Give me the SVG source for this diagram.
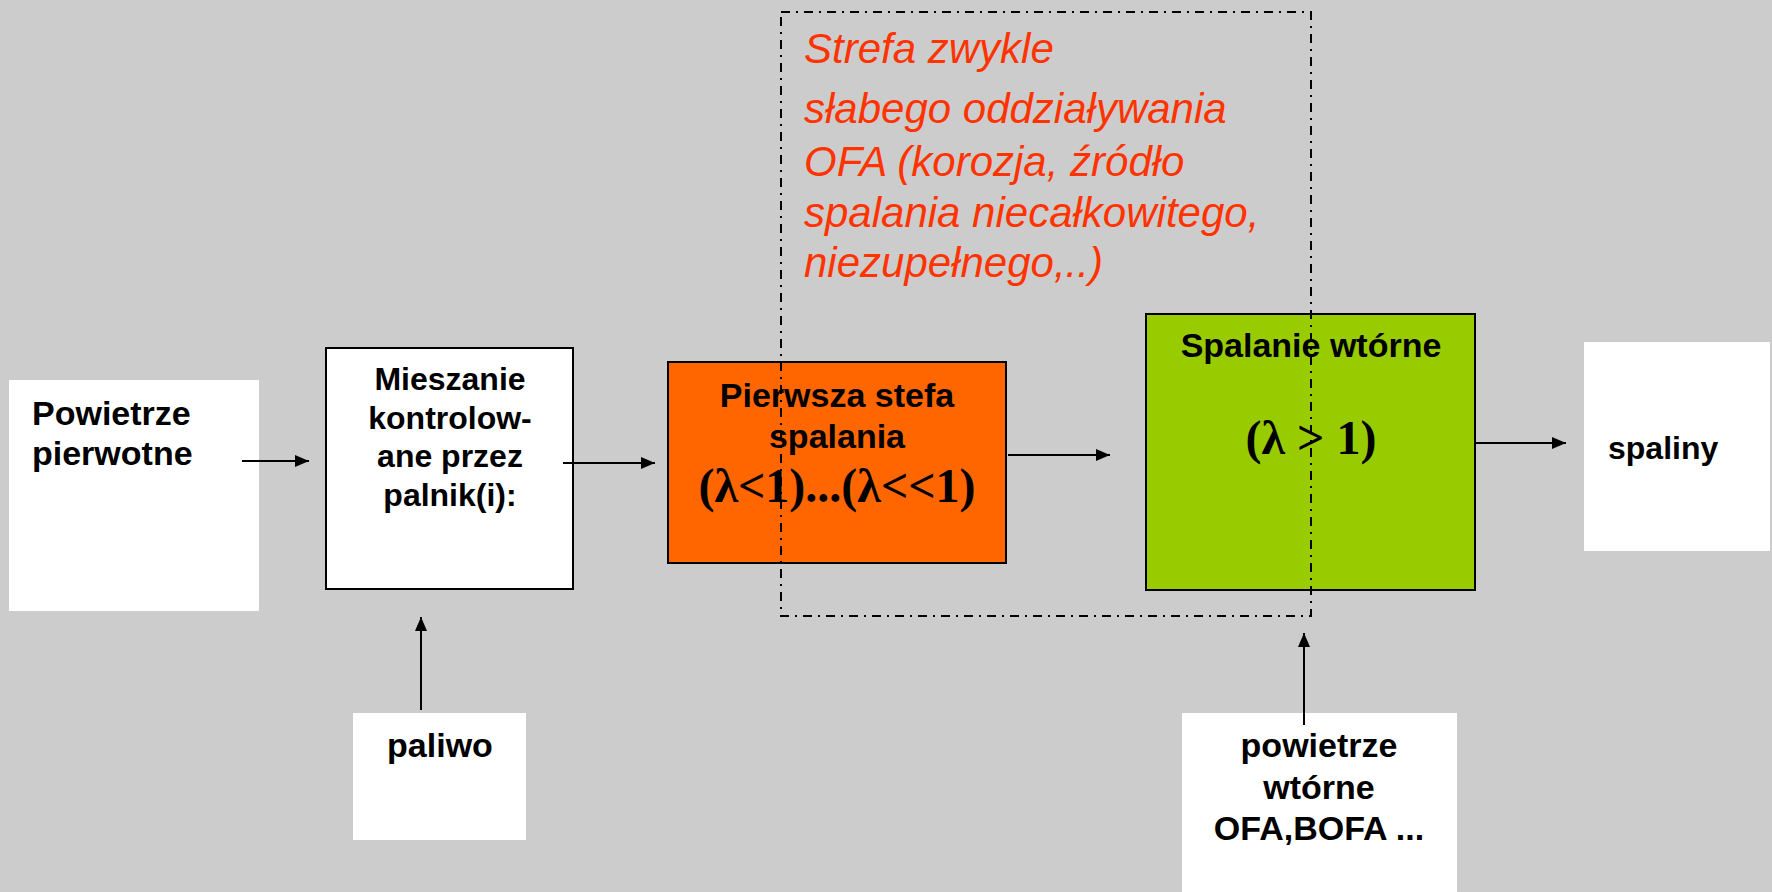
<svg xmlns="http://www.w3.org/2000/svg" width="1772" height="892" viewBox="0 0 1772 892">
<defs>
<style>
.lbl{font-family:"Liberation Sans",Arial,sans-serif;font-weight:bold;fill:#000}
.s34{font-size:34px}
.s32{font-size:32px}
.mid{text-anchor:middle}
.math{font-family:"Liberation Serif","Times New Roman",serif;font-weight:bold;font-size:48px;fill:#000;text-anchor:middle}
.note{font-family:"Liberation Sans",Arial,sans-serif;font-style:italic;font-size:42px;fill:#FF3300}
.wbox{fill:#fff}
.bbox{stroke:#000;stroke-width:2}
.conn{stroke:#000;stroke-width:2;fill:none;marker-end:url(#ah)}
</style>
<marker id="ah" markerUnits="userSpaceOnUse" markerWidth="14" markerHeight="12" refX="14" refY="6" orient="auto">
<path d="M0,0 L14,6 L0,12 Z" fill="#000"/>
</marker>
</defs>
<rect x="0" y="0" width="1772" height="892" fill="#CCCCCC"/>

<g id="powietrze-pierwotne">
<rect class="wbox" x="9" y="380" width="250" height="231"/>
<text class="lbl s34" x="32" y="425">Powietrze</text>
<text class="lbl s34" x="32" y="465">pierwotne</text>
</g>

<g id="mieszanie">
<rect class="wbox bbox" x="326" y="348" width="247" height="241"/>
<text class="lbl s32 mid" x="450" y="390">Mieszanie</text>
<text class="lbl s32 mid" x="450" y="429">kontrolow-</text>
<text class="lbl s32 mid" x="450" y="467">ane przez</text>
<text class="lbl s32 mid" x="450" y="506">palnik(i):</text>
</g>

<g id="pierwsza-strefa">
<rect class="bbox" x="668" y="362" width="338" height="201" fill="#FF6600"/>
<text class="lbl s34 mid" x="837" y="407">Pierwsza stefa</text>
<text class="lbl s34 mid" x="837" y="448">spalania</text>
<text class="math" x="837" y="502">(λ&lt;1)...(λ&lt;&lt;1)</text>
</g>

<g id="spalanie-wtorne">
<rect class="bbox" x="1146" y="314" width="329" height="276" fill="#99CC00"/>
<text class="lbl s34 mid" x="1311" y="357">Spalanie wtórne</text>
<text class="math" x="1311" y="454">(λ &gt; 1)</text>
</g>

<g id="spaliny">
<rect class="wbox" x="1584" y="342" width="186" height="209"/>
<text class="lbl s32" x="1608" y="459">spaliny</text>
</g>

<g id="paliwo">
<rect class="wbox" x="353" y="713" width="173" height="127"/>
<text class="lbl s34 mid" x="440" y="757">paliwo</text>
</g>

<g id="powietrze-wtorne">
<rect class="wbox" x="1182" y="713" width="275" height="185"/>
<text class="lbl s34 mid" x="1319" y="757">powietrze</text>
<text class="lbl s34 mid" x="1319" y="799">wtórne</text>
<text class="lbl s34 mid" x="1319" y="840">OFA,BOFA ...</text>
</g>

<g id="strefa-slabego">
<text class="note" x="804" y="63">Strefa zwykle</text>
<text class="note" x="804" y="123">słabego oddziaływania</text>
<text class="note" x="804" y="176">OFA (korozja, źródło</text>
<text class="note" x="804" y="227">spalania niecałkowitego,</text>
<text class="note" x="804" y="277">niezupełnego,..)</text>
<rect x="781" y="12" width="530" height="604" fill="none" stroke="#000" stroke-width="2" stroke-dasharray="9 6 2 6"/>
</g>

<g id="connectors">
<line class="conn" x1="242" y1="461" x2="309" y2="461"/>
<line class="conn" x1="563" y1="463" x2="655" y2="463"/>
<line class="conn" x1="1008" y1="455" x2="1110" y2="455"/>
<line class="conn" x1="1475" y1="443" x2="1566" y2="443"/>
<line class="conn" x1="421" y1="710" x2="421" y2="617"/>
<line class="conn" x1="1304" y1="725" x2="1304" y2="633"/>
</g>
</svg>
